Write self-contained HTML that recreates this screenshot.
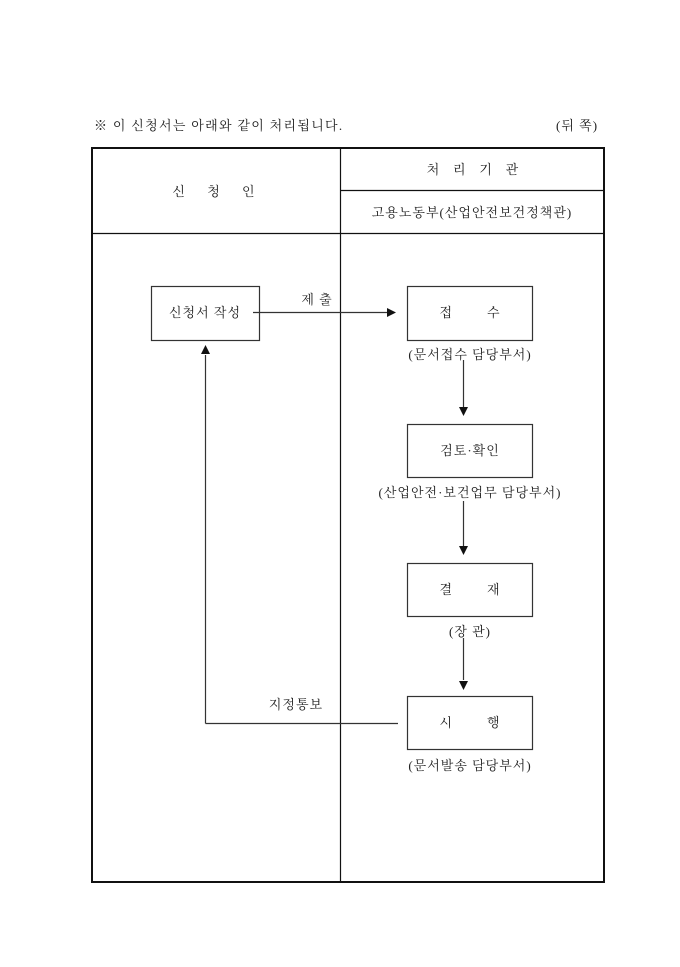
<!DOCTYPE html>
<html><head><meta charset="utf-8"><style>
body{margin:0;background:#fff;}
svg text{font-family:"Liberation Serif","Noto Serif CJK SC","Noto Sans CJK KR",serif;font-size:13px;fill:#222;letter-spacing:1px;}
</style></head><body>
<svg width="680" height="962" xmlns="http://www.w3.org/2000/svg">
<rect width="680" height="962" fill="#fff"/>
<text x="94" y="130" style="letter-spacing:1.3px">※ 이 신청서는 아래와 같이 처리됩니다.</text>
<text x="556" y="130">(뒤 쪽)</text>
<rect x="92" y="148" width="512" height="734" fill="none" stroke="#111" stroke-width="2"/>
<line x1="340.5" y1="148" x2="340.5" y2="882" stroke="#111" stroke-width="1.2"/>
<line x1="340" y1="190.5" x2="604" y2="190.5" stroke="#111" stroke-width="1.2"/>
<line x1="92" y1="233.5" x2="604" y2="233.5" stroke="#111" stroke-width="1.2"/>
<text x="214" y="196" text-anchor="middle" xml:space="preserve">신     청     인</text>
<text x="473" y="174" text-anchor="middle" xml:space="preserve">처   리   기   관</text>
<text x="472" y="217" text-anchor="middle">고용노동부(산업안전보건정책관)</text>
<g fill="none" stroke="#333" stroke-width="1.2">
<rect x="151.5" y="286.5" width="108" height="54"/>
<rect x="407.5" y="286.5" width="125" height="54"/>
<rect x="407.5" y="424.5" width="125" height="53"/>
<rect x="407.5" y="563.5" width="125" height="53"/>
<rect x="407.5" y="696.5" width="125" height="53"/>
<line x1="253" y1="312.5" x2="390" y2="312.5"/>
<line x1="463.5" y1="360" x2="463.5" y2="408"/>
<line x1="463.5" y1="501" x2="463.5" y2="547"/>
<line x1="463.5" y1="638" x2="463.5" y2="680"/>
<line x1="398" y1="723.5" x2="205.5" y2="723.5"/>
<line x1="205.5" y1="723.5" x2="205.5" y2="355"/>
</g>
<g fill="#111">
<polygon points="396,312.5 387,308 387,317"/>
<polygon points="463.5,416 459,407 468,407"/>
<polygon points="463.5,555 459,546 468,546"/>
<polygon points="463.5,690 459,681 468,681"/>
<polygon points="205.5,345 201,354 210,354"/>
</g>
<text x="205" y="317" text-anchor="middle">신청서 작성</text>
<text x="317" y="304" text-anchor="middle">제 출</text>
<text x="470" y="317" text-anchor="middle" xml:space="preserve">접        수</text>
<text x="470" y="359" text-anchor="middle">(문서접수 담당부서)</text>
<text x="470" y="455" text-anchor="middle">검토·확인</text>
<text x="470" y="497" text-anchor="middle">(산업안전·보건업무 담당부서)</text>
<text x="470" y="594" text-anchor="middle" xml:space="preserve">결        재</text>
<text x="470" y="636" text-anchor="middle">(장 관)</text>
<text x="470" y="727" text-anchor="middle" xml:space="preserve">시        행</text>
<text x="470" y="770" text-anchor="middle">(문서발송 담당부서)</text>
<text x="296" y="709" text-anchor="middle">지정통보</text>
</svg>
</body></html>
